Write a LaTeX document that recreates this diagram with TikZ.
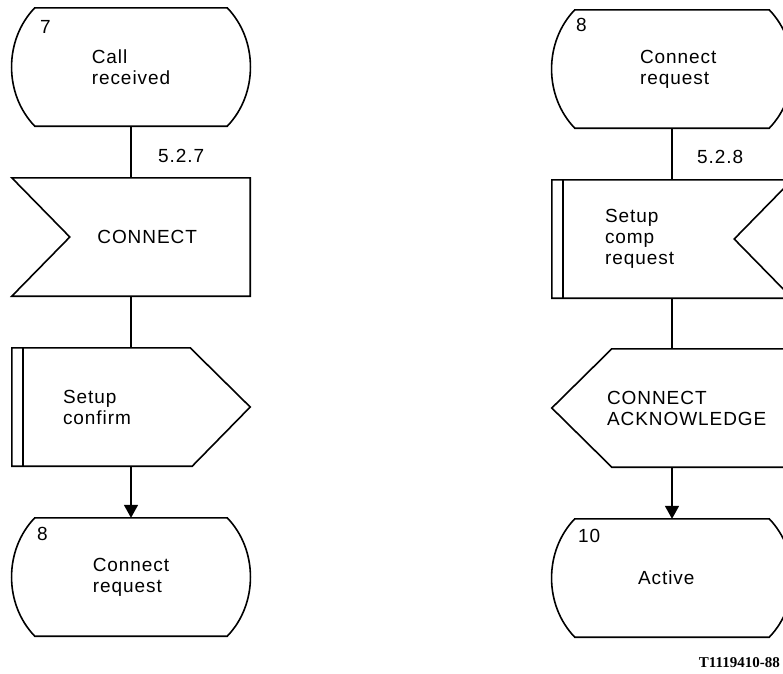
\documentclass[tikz,border=0pt]{standalone}
\usepackage{fontspec}
\setmainfont{Liberation Sans}[LetterSpace=5]
\newfontfamily\reffont{Liberation Serif}
\usepackage{tikz}
\usetikzlibrary{arrows.meta}

% outlines drawn round a named rectangle node
\newcommand{\statesym}[1]{%
  \draw[sym] ([xshift=23pt]#1.north west) -- ([xshift=-23pt]#1.north east)
    .. controls ([xshift=8pt,yshift=-32pt]#1.north east) and ([xshift=8pt,yshift=32pt]#1.south east)
    .. ([xshift=-23pt]#1.south east) -- ([xshift=23pt]#1.south west)
    .. controls ([xshift=-8pt,yshift=32pt]#1.south west) and ([xshift=-8pt,yshift=-32pt]#1.north west)
    .. cycle;}
\newcommand{\insym}[1]{%
  \draw[sym] (#1.north west) -- (#1.north east) -- (#1.south east)
    -- (#1.south west) -- ([xshift=58pt]#1.west) -- cycle;}
\newcommand{\inbarsym}[1]{%
  \draw[sym] (#1.north west) -- (#1.north east) -- ([xshift=-58pt]#1.east)
    -- (#1.south east) -- (#1.south west) -- cycle;
  \draw[sym] ([xshift=11pt]#1.north west) -- ([xshift=11pt]#1.south west);}
\newcommand{\outbarsym}[1]{%
  \draw[sym] (#1.north west) -- ([xshift=-60pt]#1.north east) -- (#1.east)
    -- ([xshift=-58pt]#1.south east) -- (#1.south west) -- cycle;
  \draw[sym] ([xshift=11pt]#1.north west) -- ([xshift=11pt]#1.south west);}
\newcommand{\outleftsym}[1]{%
  \draw[sym] ([xshift=60pt]#1.north west) -- (#1.north east) -- (#1.south east)
    -- ([xshift=60pt]#1.south west) -- (#1.west) -- cycle;}

\begin{document}
\begin{tikzpicture}[x=1pt,y=-1pt,
    sym/.style={line width=1.6pt,line join=miter},
    every node/.style={font=\fontsize{19}{21}\selectfont},
    lbox/.style={rectangle,inner sep=0pt,minimum width=238pt,minimum height=118pt,align=left},
    rbox/.style={lbox,minimum width=240pt},
    num/.style={anchor=base west,inner sep=0pt},
    arr/.style={sym,-{Triangle[width=14pt,length=13pt]}}]
  \useasboundingbox (0,0) rectangle (783,673);
  \clip (0,0) rectangle (783,673);

  % left column
  \node[lbox] (s7) at (131,67) {Call\\received};
  \node[lbox,text width=132pt,align=right] (c7) at (131,237) {CONNECT};
  \node[lbox,text width=136pt] (sc) at (131,407) {Setup\\confirm};
  \node[lbox] (s8a) at (131,577) {Connect\\request};

  % right column
  \node[rbox,text width=64pt] (s8b) at (672,69) {Connect\\request};
  \node[rbox,text width=134pt] (scr) at (672,239) {Setup\\comp\\request};
  \node[rbox,text width=130pt] (ca) at (672,408) {CONNECT\\ACKNOWLEDGE};
  \node[rbox,text width=68pt] (s10) at (672,578) {Active};

  \foreach \n in {s7,s8a,s8b,s10} {
      \statesym{\n}
    }
  \insym{c7}
  \outbarsym{sc}
  \inbarsym{scr}
  \outleftsym{ca}

  % state numbers
  \node[num] (n7) at ([xshift=28pt,yshift=-26pt]s7.north west) {7};
  \node[num] (n8a) at ([xshift=25pt,yshift=-23pt]s8a.north west) {8};
  \node[num] (n8b) at ([xshift=24pt,yshift=-22pt]s8b.north west) {8};
  \node[num] (n10) at ([xshift=26pt,yshift=-24pt]s10.north west) {10};

  % connectors
  \draw[sym] (s7) -- (c7);
  \draw[sym] (c7) -- (sc);
  \draw[arr] (sc) -- (s8a);
  \draw[sym] (s8b) -- (scr);
  \draw[sym] (scr) -- (ca);
  \draw[arr] (ca) -- (s10);

  \node[num] (l527) at ([xshift=27pt,yshift=15pt]c7.north) {5.2.7};
  \node[num] (l528) at ([xshift=25pt,yshift=16pt]scr.north) {5.2.8};

  \node[anchor=base east,inner sep=0pt,font=\reffont\bfseries\fontsize{15}{17}\selectfont] (ref) at (780,667) {T1119410-88};
\end{tikzpicture}
\end{document}
